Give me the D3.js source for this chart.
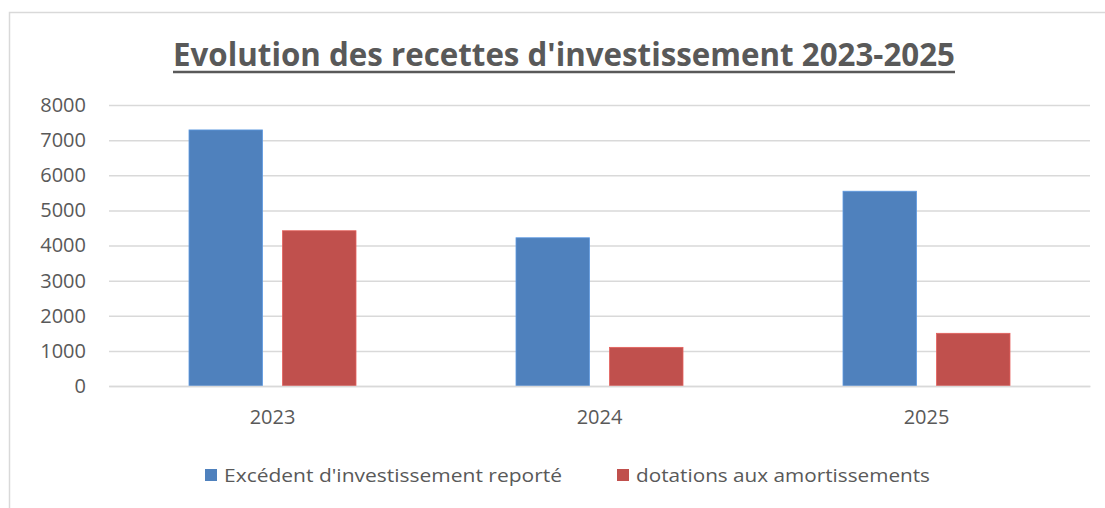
<!DOCTYPE html>
<html><head><meta charset="utf-8">
<script src="https://cdn.jsdelivr.net/npm/d3@7"></script>
<style>body{margin:0;background:#fff;overflow:hidden}</style>
</head><body>
<svg id="c" width="1105" height="508"></svg>
<script>
const categories = ["2023", "2024", "2025"];
const seriesNames = ["Excédent d'investissement reporté", "dotations aux amortissements"];
const excedent = [7290, 4220, 5545];
const dotations = [4420, 1100, 1500];
const yTicks = [0, 1000, 2000, 3000, 4000, 5000, 6000, 7000, 8000];
const colors = ["#4F81BD", "#C0504D"];
const title = "Evolution des recettes d'investissement 2023-2025";

(function () {
const svg = d3.select("#c");
const font = "'Open Sans', sans-serif";
const textColor = "#595959";

svg.append("rect").attr("x", 9.5).attr("y", 12.5).attr("width", 1200).attr("height", 600)
  .attr("fill", "#fff").attr("stroke", "#D9D9D9").attr("stroke-width", 1.5);

const pLeft = 109, pRight = 1090, pTop = 105, pBottom = 386;
const x = d3.scaleBand().domain(categories).range([pLeft, pRight]).paddingInner(0).paddingOuter(0);
const x1 = d3.scaleBand().domain([0, 1]).range([80, x.bandwidth() - 80]).paddingInner(20 / 93.4);
const y = d3.scaleLinear().domain([0, 8000]).range([pBottom, pTop]);

// grid
const yAxis = d3.axisLeft(y).tickValues(yTicks).tickSize(-(pRight - pLeft)).tickPadding(23).tickFormat(d3.format("d"));
const gy = svg.append("g").attr("transform", `translate(${pLeft},0)`).call(yAxis);
gy.select(".domain").remove();
gy.selectAll(".tick line").attr("stroke", "#D9D9D9").attr("stroke-width", 1.5);
gy.selectAll(".tick text").attr("fill", textColor).style("font-family", font).style("font-size", "20px");

// bars
const data = [excedent, dotations];
categories.forEach((c, i) => {
  [0, 1].forEach(s => {
    svg.append("rect")
      .attr("x", x(c) + x1(s)).attr("y", y(data[s][i]))
      .attr("width", x1.bandwidth()).attr("height", y(0) - y(data[s][i]))
      .attr("fill", colors[s]).attr("stroke", d3.color(colors[s]).brighter(0.5)).attr("stroke-width", 0.8);
  });
});

// x axis
const xAxis = d3.axisBottom(x).tickSize(0).tickPadding(24);
const gx = svg.append("g").attr("transform", `translate(0,${pBottom})`).call(xAxis);
gx.select(".domain").attr("stroke", "#D9D9D9").attr("stroke-width", 1.5);
gx.selectAll(".tick text").attr("fill", textColor).style("font-family", font).style("font-size", "20px");

// title
svg.append("text").attr("x", 173).attr("y", 66).text(title)
  .attr("fill", textColor).style("font-family", font).style("font-size", "32px").style("font-weight", "bold")
  .attr("textLength", 782).attr("lengthAdjust", "spacingAndGlyphs");
svg.append("line").attr("x1", 173).attr("x2", 955).attr("y1", 72).attr("y2", 72)
  .attr("stroke", textColor).attr("stroke-width", 2.5);

// legend
const legX = [205, 617], legTextX = [224, 636], legLen = [338, 294];
seriesNames.forEach((n, i) => {
  svg.append("rect").attr("x", legX[i]).attr("y", 469).attr("width", 12).attr("height", 12).attr("fill", colors[i]);
  svg.append("text").attr("x", legTextX[i]).attr("y", 482).text(n)
    .attr("fill", textColor).style("font-family", font).style("font-size", "19px")
    .attr("textLength", legLen[i]).attr("lengthAdjust", "spacingAndGlyphs");
});
})();
</script>
</body></html>
